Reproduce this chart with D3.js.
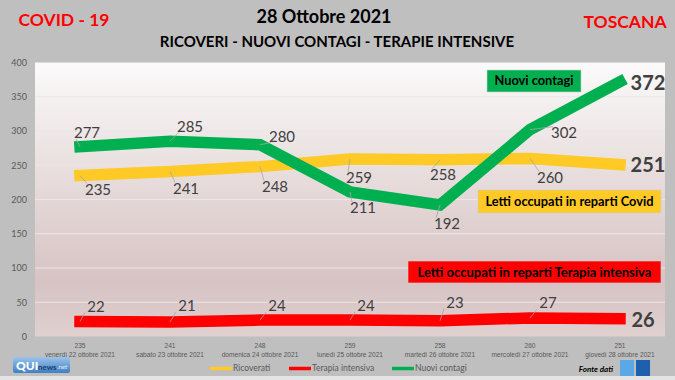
<!DOCTYPE html>
<html><head><meta charset="utf-8">
<script src="https://cdn.jsdelivr.net/npm/d3@7"></script>
<style>
html,body{margin:0;padding:0;background:#bfbfbf;}
svg{display:block;font-family:Lato,"Open Sans",sans-serif;}
</style></head>
<body>
<svg id="chart" width="675" height="380"></svg>
<script>
// ---- data ----
const categories = ["venerdì 22 ottobre 2021","sabato 23 ottobre 2021","domenica 24 ottobre 2021","lunedì 25 ottobre 2021","martedì 26 ottobre 2021","mercoledì 27 ottobre 2021","giovedì 28 ottobre 2021"];
const ricoverati = [235, 241, 248, 259, 258, 260, 251];
const terapiaIntensiva = [22, 21, 24, 24, 23, 27, 26];
const nuoviContagi = [277, 285, 280, 211, 192, 302, 372];
const yTicks = [0, 50, 100, 150, 200, 250, 300, 350, 400];

// ---- layout (label offsets in px, not data) ----
const offG = [[7,-14],[20,-15],[22,-8],[13,16],[7,19],[34,3],[28,1]];
const offY = [[18,14],[16,17],[15,20],[9,19],[3,15],[20,19],[28,0]];
const offR = [[16,-15],[17,-16],[17,-14],[16,-14],[15,-18],[18,-15],[23,1]];

const svg = d3.select("#chart");
const W = 675, H = 380;
const L = 35, R = 665, T = 62.5, B = 336.5;

const x = d3.scaleBand().domain(categories).range([L, R]);
const cx = c => x(c) + x.bandwidth()/2;
const y = d3.scaleLinear().domain([0, 400]).range([B, T]);

// background
svg.append("rect").attr("width", W).attr("height", H).attr("fill", "#bfbfbf");
svg.append("rect").attr("x",0).attr("y",376).attr("width",W).attr("height",4).attr("fill","#e4e4e4");

const defs = svg.append("defs");
const grad = defs.append("linearGradient").attr("id","pg").attr("x1",0).attr("y1",0).attr("x2",0).attr("y2",1);
grad.append("stop").attr("offset","0%").attr("stop-color","#fbfafa");
grad.append("stop").attr("offset","45%").attr("stop-color","#e6dada");
grad.append("stop").attr("offset","80%").attr("stop-color","#d7c3c3");
grad.append("stop").attr("offset","100%").attr("stop-color","#e0d0d0");
svg.append("rect").attr("x", L).attr("y", T).attr("width", R - L).attr("height", B - T).attr("fill", "url(#pg)");

// grid
svg.append("g").selectAll("line").data(yTicks.filter(d => d > 0 && d < 400)).join("line")
  .attr("x1", L).attr("x2", R).attr("y1", d => y(d)).attr("y2", d => y(d))
  .attr("stroke", "#ece6e6").attr("stroke-width", 1.2);

// y axis
const yAxis = svg.append("g").attr("transform", `translate(${L - 8},0)`)
  .call(d3.axisLeft(y).tickValues(yTicks).tickSize(0).tickPadding(0));
yAxis.select(".domain").remove();
yAxis.selectAll("text").attr("fill", "#595959").style("font-size", "9px").style("font-family","Lato,sans-serif");

// x axis
const xAxis = svg.append("g").attr("transform", `translate(0,${B})`)
  .call(d3.axisBottom(x).tickSize(0).tickFormat(""));
xAxis.select(".domain").remove();
xAxis.selectAll(".tick").each(function(d, i) {
  const g = d3.select(this);
  g.append("text").attr("y", 7).attr("dy", "0.71em").attr("text-anchor","middle")
    .attr("fill","#595959").style("font-size","6.6px").text(ricoverati[i]);
  g.append("text").attr("y", 15.5).attr("dy", "0.71em").attr("text-anchor","middle")
    .attr("fill","#595959").style("font-size","6.6px").text(d);
});

// lines
const series = [
  {vals: ricoverati, color: "#ffc926", off: offY},
  {vals: nuoviContagi, color: "#00b050", off: offG},
  {vals: terapiaIntensiva, color: "#ff0000", off: offR}
];
const line = d3.line().x((d, i) => cx(categories[i])).y(d => y(d));
series.forEach(s => {
  svg.append("path").datum(s.vals).attr("d", line).attr("fill","none")
    .attr("stroke", s.color).attr("stroke-width", 11.5)
    .attr("stroke-linecap","square").attr("stroke-linejoin","miter");
});

// data labels with leader lines
series.forEach(s => {
  s.vals.forEach((v, i) => {
    const px = cx(categories[i]), py = y(v);
    const [dx, dy] = s.off[i];
    const last = i === s.vals.length - 1;
    const lx = px + dx, ly = py + dy;
    if (!last) {
      const hw = 11, hh = 6;
      const tx = lx - Math.sign(dx) * hw;
      const ty = ly - Math.sign(dy) * hh;
      if (Math.hypot(tx - px, ty - py) > 5) {
        svg.append("line").attr("x1", px).attr("y1", py).attr("x2", tx).attr("y2", ty)
          .attr("stroke", "#a6a6a6").attr("stroke-width", 0.8);
      }
    }
    svg.append("text").attr("x", lx).attr("y", ly).attr("dy","0.35em")
      .attr("text-anchor","middle").attr("fill","#404040")
      .style("font-size", last ? "20px" : "15px").style("font-weight", last ? "700" : "400")
      .text(v);
  });
});

// annotation boxes
function box(x0, y0, w, h, fill, txt, fs) {
  svg.append("rect").attr("x",x0).attr("y",y0).attr("width",w).attr("height",h).attr("fill",fill)
    .attr("stroke", "#cfcfcf").attr("stroke-width", 0.6);
  svg.append("text").attr("x", x0 + w/2).attr("y", y0 + h/2).attr("dy","0.35em").attr("text-anchor","middle")
    .attr("fill","#000").style("font-size", fs + "px").style("font-weight","700").text(txt);
}
box(487, 70, 94, 22, "#00b050", "Nuovi contagi", 12.8);
box(478, 190, 183, 23, "#ffc926", "Letti occupati in reparti Covid", 12.8);
box(408, 261, 253, 22, "#ff0000", "Letti occupati in reparti Terapia intensiva", 13);

// titles
svg.append("text").attr("x", 64).attr("y", 20).attr("dy","0.35em").attr("text-anchor","middle")
  .attr("fill","#ff0000").style("font-size","17.5px").style("font-weight","700").text("COVID - 19");
svg.append("text").attr("x", 625).attr("y", 22).attr("dy","0.35em").attr("text-anchor","middle")
  .attr("fill","#ff0000").style("font-size","17.5px").style("font-weight","700").text("TOSCANA");
svg.append("text").attr("x", 324).attr("y", 17).attr("dy","0.35em").attr("text-anchor","middle")
  .attr("fill","#000").style("font-size","18px").style("font-weight","700").text("28 Ottobre 2021");
svg.append("text").attr("x", 337).attr("y", 42).attr("dy","0.35em").attr("text-anchor","middle")
  .attr("fill","#000").style("font-size","15px").style("font-weight","700").text("RICOVERI - NUOVI CONTAGI - TERAPIE INTENSIVE");

// legend
const legend = [
  {name: "Ricoverati", color: "#ffc926", x: 210},
  {name: "Terapia intensiva", color: "#ff0000", x: 289},
  {name: "Nuovi contagi", color: "#00b050", x: 392}
];
const lg = svg.append("g");
legend.forEach(l => {
  lg.append("line").attr("x1", l.x).attr("x2", l.x + 22).attr("y1", 368.5).attr("y2", 368.5)
    .attr("stroke", l.color).attr("stroke-width", 3.5);
  lg.append("text").attr("x", l.x + 23).attr("y", 368.5).attr("dy","0.35em")
    .attr("fill","#595959").style("font-size","8.5px").text(l.name);
});

// QUInews logo
const qg = svg.append("linearGradient").attr("id","qg").attr("x1",0).attr("y1",0).attr("x2",0).attr("y2",1);
qg.append("stop").attr("offset","0%").attr("stop-color","#9cc4ea");
qg.append("stop").attr("offset","100%").attr("stop-color","#3f7fc4");
svg.append("rect").attr("x",13).attr("y",357).attr("width",57).attr("height",16).attr("rx",2).attr("fill","url(#qg)");
svg.append("text").attr("x",16).attr("y",366).attr("dy","0.35em").attr("fill","#fff")
  .style("font-size","12px").style("font-weight","900").text("QUI");
svg.append("text").attr("x",38).attr("y",367).attr("dy","0.35em").attr("fill","#1d3f75")
  .style("font-size","8px").style("font-weight","700").text("news");
svg.append("text").attr("x",57).attr("y",367).attr("dy","0.35em").attr("fill","#e8f0fa")
  .style("font-size","6.5px").style("font-style","italic").text(".net");

// Fonte dati
svg.append("text").attr("x",613).attr("y",369).attr("dy","0.35em").attr("text-anchor","end")
  .attr("fill","#000").style("font-size","8px").style("font-weight","700").style("font-style","italic").text("Fonte dati");
svg.append("rect").attr("x",620).attr("y",360).attr("width",14).attr("height",16).attr("fill","#5aa9e6");
svg.append("rect").attr("x",636).attr("y",360).attr("width",14).attr("height",16).attr("fill","#1e5fae");
</script>
</body></html>
